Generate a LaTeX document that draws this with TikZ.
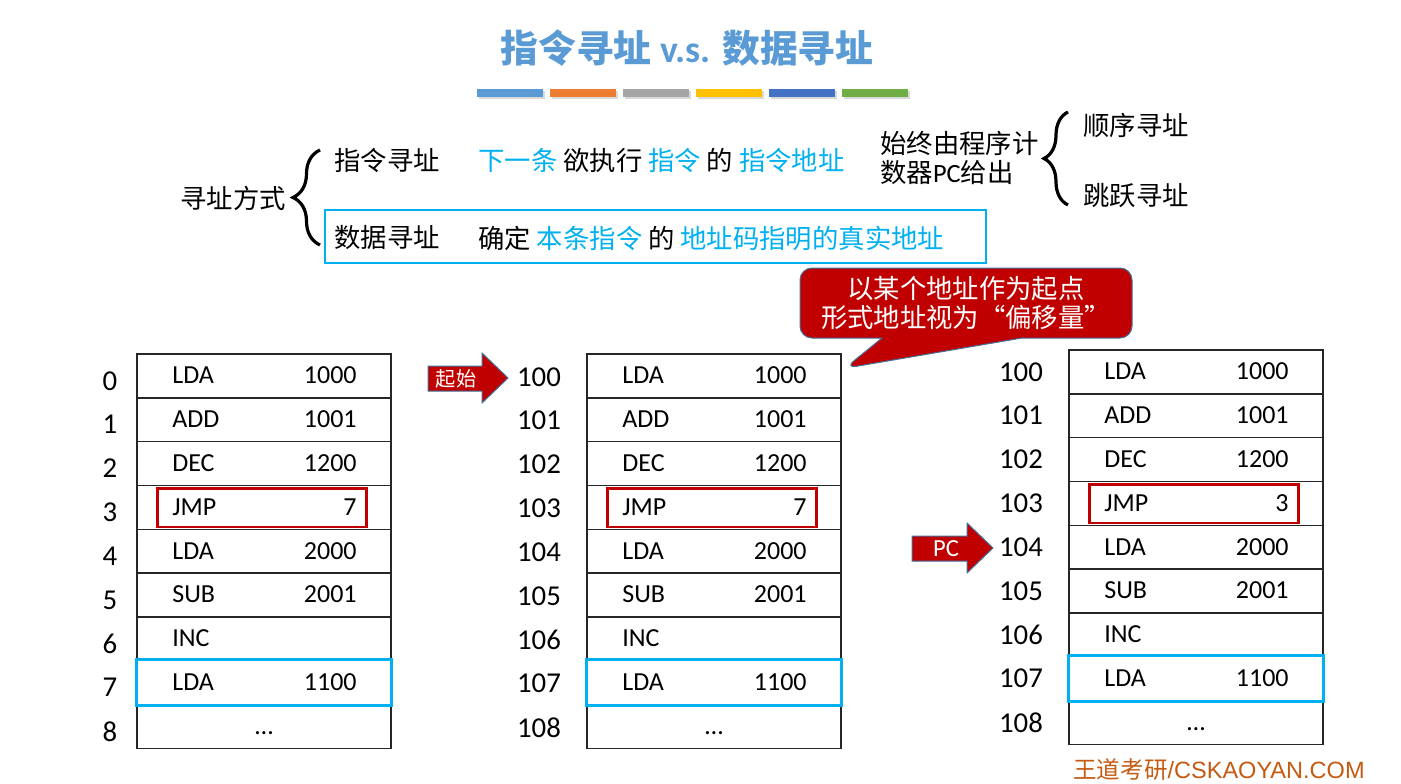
\documentclass[tikz,border=0pt]{standalone}
\usepackage{fontspec}
\setmainfont{Carlito}
\newfontfamily\cjk{Noto Sans CJK SC}
\newfontfamily\arialfont{Liberation Sans}
\usetikzlibrary{shapes.callouts, decorations.pathreplacing, calc}

\newlength\pxu
\setlength\pxu{0.02cm}

\definecolor{titleblue}{HTML}{5B9BD5}
\definecolor{hlcyan}{HTML}{00B0F0}
\definecolor{darkred}{HTML}{C00000}
\definecolor{edgeblue}{HTML}{41719C}
\definecolor{footorange}{HTML}{C55A11}
\definecolor{barblue}{HTML}{5B9BD5}
\definecolor{barorange}{HTML}{ED7D31}
\definecolor{bargray}{HTML}{A5A5A5}
\definecolor{baryellow}{HTML}{FFC000}
\definecolor{bardblue}{HTML}{4472C4}
\definecolor{bargreen}{HTML}{70AD47}

\newcommand\hl[1]{\textcolor{hlcyan}{#1}}

\tikzset{
  cell/.style={draw=black!85, line width=1.4\pxu, minimum width=254\pxu,
    minimum height=43.8\pxu, inner sep=0pt},
  optext/.style={font=\fontsize{14.8}{17}\selectfont, inner sep=0pt},
  numtext/.style={font=\fontsize{16.4}{19}\selectfont, inner sep=0pt},
  cjktext/.style={font=\cjk\fontsize{15}{17}\selectfont, inner sep=0pt},
  jmpbox/.style={draw=darkred, line width=2.6\pxu},
  hitbox/.style={draw=hlcyan, line width=3\pxu},
  blockarrow/.style={fill=darkred, draw=edgeblue, line width=1\pxu},
  bigbrace/.style={decorate, decoration={brace, amplitude=#1}, line width=3.2\pxu},
}

\begin{document}
\begin{tikzpicture}[x=0.02cm, y=-0.02cm]
  \useasboundingbox (0,0) rectangle (1401,784);

  % -- title and colour bars
  \node[font=\cjk\bfseries\fontsize{21.5}{24}\selectfont, text=titleblue] (title)
    at (687,48) {指令寻址 {\rmfamily v.s.} 数据寻址};
  \foreach\c [count=\i from 0] in {barblue, barorange, bargray, baryellow, bardblue, bargreen} {
    \fill[black!15] (479 + 73*\i, 91) rectangle ++(66, 8);
    \fill[\c] (477 + 73*\i, 89) rectangle ++(66, 8);
  }

  % -- addressing modes
  \node[cjktext, anchor=west] (modes) at (180,198) {寻址方式};
  \draw[bigbrace=27\pxu] (320,245) -- (320,150);
  \node[draw=hlcyan, line width=1.5\pxu, minimum width=661\pxu, minimum height=53\pxu]
    (databox) at (655.5,236.5) {};
  \node[cjktext, anchor=west] (instr) at (334,160) {指令寻址};
  \node[cjktext, anchor=west] (instrdef) at (478,160)
    {\hl{下一条} 欲执行 \hl{指令} 的 \hl{指令地址}};
  \node[cjktext, anchor=west] (data) at (334,238) {数据寻址};
  \node[cjktext, anchor=west] (datadef) at (478,238)
    {确定 \hl{本条指令} 的 \hl{地址码指明的真实地址}};

  \node[cjktext, anchor=west, align=left] (pcsrc) at (880,158)
    {始终由程序计\\数器{\rmfamily PC}给出};
  \draw[bigbrace=24\pxu] (1068,205) -- (1068,112);
  \node[cjktext, anchor=west] (seq) at (1083,125) {顺序寻址};
  \node[cjktext, anchor=west] (jump) at (1083,196) {跳跃寻址};

  % -- memory tables
  \foreach\t/\xl/\yt/\lx/\dy/\base/\jmp in {A/137/354/110/5/0/7,
      B/587/354/539/1/100/7, C/1069/350/1021/0/100/3} {
    \foreach\op/\ad [count=\r from 0] in {LDA/1000, ADD/1001, DEC/1200, JMP/\jmp,
        LDA/2000, SUB/2001, INC/, LDA/1100} {
      \pgfmathsetmacro\y{\yt + 43.8*\r + 21.9}
      \pgfmathtruncatemacro\n{\base + \r}
      \node[cell] (\t\r) at (\xl + 127, \y) {};
      \node[optext, anchor=base west] (\t-op-\r) at (\xl + 35, \y + 8) {\op};
      \node[optext, anchor=base east] (\t-ad-\r) at (\xl + 220, \y + 8) {\ad};
      \node[numtext] (\t-n-\r) at (\lx, \y + \dy) {\n};
    }
    \pgfmathsetmacro\y{\yt + 43.8*8 + 21.9}
    \pgfmathtruncatemacro\n{\base + 8}
    \node[cell] (\t8) at (\xl + 127, \y) {};
    \node[optext, anchor=base] (\t-op-8) at (\xl + 127, \y + 8) {…};
    \node[numtext] (\t-n-8) at (\lx, \y + \dy) {\n};

    \draw[jmpbox] ($(\t3.north west) + (21,4)$) rectangle ($(\t3.south east) + (-25,-3)$);
    \draw[hitbox] (\t7.north west) rectangle (\t7.south east);
  }

  % -- start and PC arrows
  \draw[blockarrow] (428,366) -- (482,366) -- (482,353) -- (508,378) --
      (482,403) -- (482,391) -- (428,391) -- cycle;
  \node[font=\cjk\fontsize{11.5}{13}\selectfont, text=white] (startlbl) at (456,379) {起始};

  \draw[blockarrow] (912,536) -- (967,536) -- (967,523) -- (993,548) --
      (967,573) -- (967,561) -- (912,561) -- cycle;
  \node[font=\fontsize{14}{16}\selectfont, text=white] (pclbl) at (946,549) {PC};

  % -- offset note
  \node[rectangle callout, fill=darkred, draw=edgeblue, line width=1\pxu,
    rounded corners=12\pxu, minimum width=332\pxu, minimum height=70\pxu,
    callout absolute pointer={($(B0.north east) + (3,15)$)},
    callout pointer width=140\pxu, text=white, align=center,
    font=\cjk\fontsize{15}{17}\selectfont] (offsetnote) at (966,303)
    {以某个地址作为起点\\形式地址视为“偏移量”};

  \node[font=\arialfont\fontsize{13.4}{15}\selectfont, text=footorange, anchor=east,
    inner sep=0pt] (footer) at (1365,770) {{\cjk 王道考研}/CSKAOYAN.COM};
\end{tikzpicture}
\end{document}
